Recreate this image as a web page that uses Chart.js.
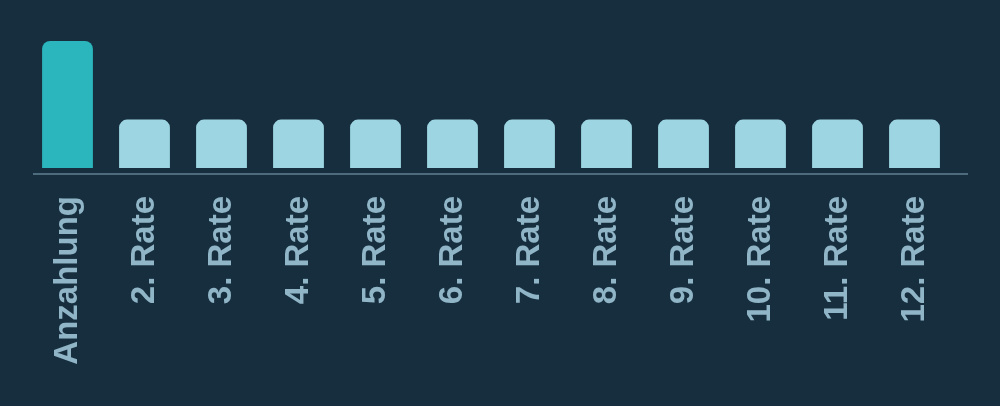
<!DOCTYPE html>
<html>
<head>
<meta charset="utf-8">
<script src="https://cdn.jsdelivr.net/npm/chart.js@4/dist/chart.umd.min.js"></script>
<style>
    html, body { margin: 0; padding: 0; background: #172e3f; }
    #wrap { width: 1000px; height: 406px; }
</style>
</head>
<body>
<div id="wrap"><canvas id="ratesChart"></canvas></div>
<script>
// Payment plan values
const labels = ['Anzahlung', '2. Rate', '3. Rate', '4. Rate', '5. Rate', '6. Rate',
    '7. Rate', '8. Rate', '9. Rate', '10. Rate', '11. Rate', '12. Rate'];
const amounts = [420, 160, 160, 160, 160, 160, 160, 160, 160, 160, 160, 160];

const colors = {
    down: '#2bb5bd',
    rate: '#9dd6e2',
    line: '#4d6b7c',
    text: '#8fb5c6'
};

// Baseline drawn a little below the bars
const baseline = {
    id: 'baseline',
    afterDatasetsDraw(chart) {
        const { ctx, chartArea } = chart;
        const y = chart.scales.y.getPixelForValue(chart.scales.y.min);
        ctx.save();
        ctx.strokeStyle = colors.line;
        ctx.lineWidth = 2;
        ctx.beginPath();
        ctx.moveTo(chartArea.left + 4, y);
        ctx.lineTo(chartArea.right + 15, y);
        ctx.stroke();
        ctx.restore();
    }
};

new Chart(document.getElementById('ratesChart'), {
    type: 'bar',
    data: {
        labels: labels,
        datasets: [{
            data: amounts,
            backgroundColor: amounts.map((v, i) => i === 0 ? colors.down : colors.rate),
            borderRadius: { topLeft: 8, topRight: 8 },
            borderSkipped: 'bottom',
            categoryPercentage: 0.66,
            barPercentage: 1
        }]
    },
    options: {
        responsive: true,
        maintainAspectRatio: false,
        animation: false,
        layout: { padding: { left: 29, right: 47, top: 41, bottom: 0 } },
        plugins: { legend: { display: false }, tooltip: { enabled: false } },
        scales: {
            x: {
                grid: { display: false },
                border: { display: false },
                afterFit: scale => { scale.height = 232; },
                ticks: {
                    color: colors.text,
                    font: { family: 'Liberation Sans', size: 33, weight: 'bold' },
                    minRotation: 90,
                    maxRotation: 90,
                    padding: 14,
                    autoSkip: false
                }
            },
            y: {
                display: false,
                min: -20,
                max: 420
            }
        }
    },
    plugins: [baseline]
});
</script>
</body>
</html>
